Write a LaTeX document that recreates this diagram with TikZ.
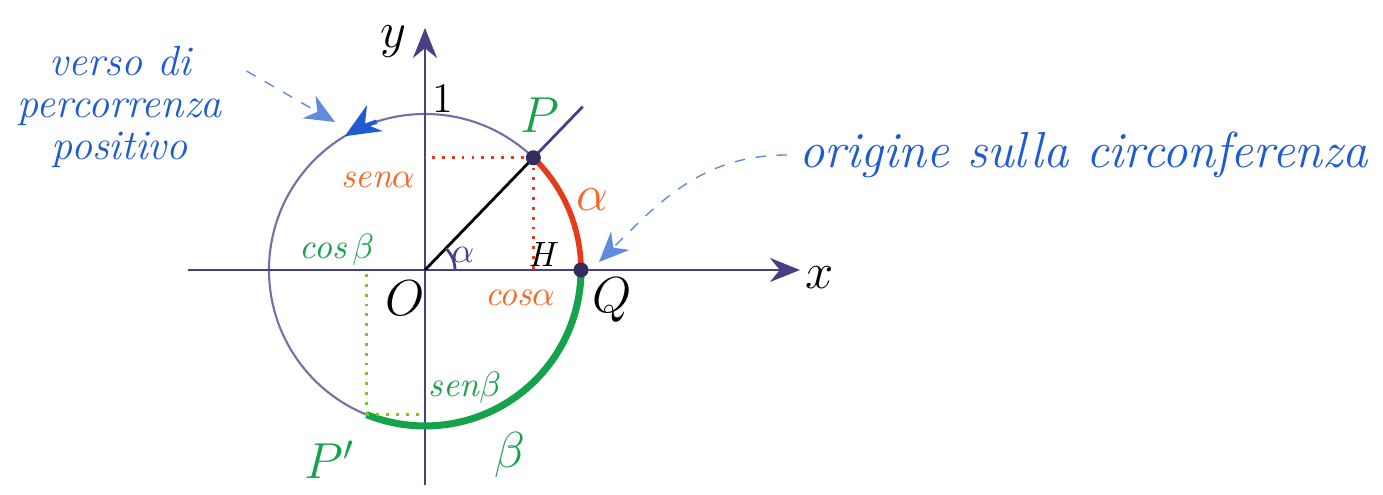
\documentclass[tikz,border=0pt]{standalone}
\usepackage{amsmath,amssymb}
\usepackage{xcolor}
\usepackage{tikz}
\usetikzlibrary{arrows.meta,positioning,calc}
\definecolor{axisviolet}{HTML}{4A3F86}
\definecolor{penblue}{HTML}{1E5AD2}
\definecolor{penred}{HTML}{E63B1A}
\definecolor{penorange}{HTML}{F26A26}
\definecolor{pengreen}{HTML}{16A24A}
\definecolor{penlime}{HTML}{7CC61E}

\begin{document}
\begin{tikzpicture}[
  axis/.style={draw=axisviolet, thick, -{Stealth[length=3mm, width=2.4mm]}},
  circ/.style={draw=axisviolet!75, semithick},
  redarc/.style={draw=penred, line width=1.6pt},
  greenarc/.style={draw=pengreen, line width=2pt},
  reddot/.style={draw=penred, thick, dotted},
  greendot/.style={draw=penlime, thick, dotted},
  bluedash/.style={draw=penblue!70, dashed, -{Stealth[length=3mm, width=2.6mm]}},
  bluetext/.style={text=penblue, font=\large\itshape},
  orangelbl/.style={text=penorange, font=\itshape},
  greenlbl/.style={text=pengreen, font=\itshape},
  darklbl/.style={text=black, font=\Large\itshape},
  pointdot/.style={fill=axisviolet!70!black}
]
\useasboundingbox (-4.25,-2.25) rectangle (9.58,2.70);

% points of the unit circle
\coordinate (O) at (0,0);
\coordinate (Q) at (0:1.56);
\coordinate (P) at (46:1.56);
\coordinate (Pp) at (-112:1.56);
\coordinate (R) at (46:2.27);
\coordinate (xl) at (-2.37,0);
\coordinate (xr) at (3.75,0);
\coordinate (yb) at (0,-2.15);
\coordinate (yt) at (0,2.42);

\draw[circ] (O) circle (1.56);
\draw[axis] (xl) -- (xr);
\draw[axis] (yb) -- (yt);

\draw[redarc] (Q) arc (0:46:1.56);
\draw[greenarc] (Q) arc (0:-112:1.56);

\draw[thick] (O) -- (P);
\draw[thick, axisviolet] (P) -- (R);
\draw[axisviolet, thick] (0.3,0) arc (0:46:0.3);

\draw[reddot] (P) -- (P |- O);
\draw[reddot] (P) -- (P -| O);
\draw[greendot] (Pp) -- (Pp |- O);
\draw[greendot] (Pp) -- (Pp -| O);

\fill[pointdot] (P) circle (0.075);
\fill[pointdot] (Q) circle (0.075);

% verso positivo
\draw[penblue, very thick, -{Stealth[length=3.5mm, width=3mm]}] (108:1.56) arc (108:121:1.56);

% axis labels
\node[darklbl] (xlab) at (3.95,-0.08) {$x$};
\node[darklbl] (ylab) at (-0.32,2.28) {$y$};
\node[text=black, font=\large] (one) at (0.18,1.72) {1};
\node[darklbl] (olab) at (-0.2,-0.28) {$O$};
\node[darklbl] (qlab) at (1.87,-0.30) {$Q$};
\node[text=black, font=\itshape] (hlab) at (1.17,0.15) {H};
\node[text=axisviolet] (alab) at (0.38,0.15) {$\alpha$};

% alpha
\node[text=pengreen, font=\Large\itshape] (plab) at (1.15,1.55) {$P$};
\node[orangelbl] (senalab) at (-0.47,0.90) {sen$\alpha$};
\node[orangelbl] (cosalab) at (0.95,-0.28) {cos$\alpha$};
\node[text=penorange, font=\Large] (arcalab) at (1.67,0.70) {$\alpha$};

% beta
\node[greenlbl] (cosblab) at (-0.88,0.20) {cos$\,\beta$};
\node[greenlbl] (senblab) at (0.40,-1.18) {sen$\beta$};
\node[text=pengreen, font=\Large] (pplab) at (-0.95,-1.90) {$P'$};
\node[text=pengreen, font=\Large] (blab) at (0.85,-1.85) {$\beta$};

% notes
\node[bluetext, align=center] (verso) at (-3.05,1.63) {verso di\\[-2pt]percorrenza\\[-2pt]positivo};
\coordinate (vtip) at (-0.90,1.48);
\draw[bluedash] ([shift={(0.12,0.36)}]verso.east) -- (vtip);

\node[bluetext, font=\Large\itshape, anchor=west] (orig) at (3.62,1.15) {origine sulla circonferenza};
\coordinate (qtip) at (1.74,0.08);
\draw[bluedash] (orig.west) to[out=180, in=45] (qtip);

\end{tikzpicture}
\end{document}
